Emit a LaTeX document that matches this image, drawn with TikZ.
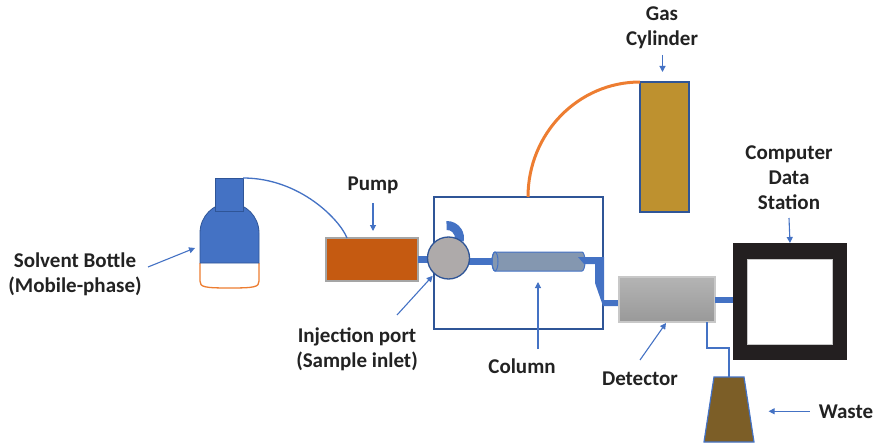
\documentclass[tikz,border=0pt]{standalone}
\usepackage{fontspec}
\setmainfont{Carlito}
\usetikzlibrary{arrows.meta,calc}

\definecolor{pipeblue}{HTML}{4472C4}
\definecolor{edgeblue}{HTML}{2F5597}
\definecolor{pumpfill}{HTML}{C55A11}
\definecolor{pumpedge}{HTML}{A5A5A5}
\definecolor{valvefill}{HTML}{AEAAAA}
\definecolor{colfill}{HTML}{8497B0}
\definecolor{gasfill}{HTML}{BE912F}
\definecolor{hoseorange}{HTML}{ED7D31}
\definecolor{pcdark}{HTML}{231F20}
\definecolor{wastefill}{HTML}{7C5E27}
\definecolor{labeltext}{HTML}{222222}
\definecolor{detlight}{HTML}{B4B4B4}
\definecolor{detdark}{HTML}{999999}
\definecolor{detedge}{HTML}{C8C8C8}

\tikzset{
  lbl/.style={font=\fontsize{21}{25}\selectfont\bfseries, text=labeltext, align=center, inner sep=0},
  ptr/.style={draw=pipeblue, line width=1.1pt, -{Triangle[width=6pt,length=6pt]}},
  thinblue/.style={draw=pipeblue, line width=1.3pt},
  pipe/.style={draw=pipeblue, line width=7pt},
  box/.style={inner sep=0, outer sep=0, rectangle},
}

\begin{document}
\begin{tikzpicture}[x=1pt,y=-1pt]
\useasboundingbox (0,0) rectangle (876,444);

% ---- solvent bottle ----
\coordinate (bottleL) at (200,248);
\fill[white] (200,263) -- (200,281) .. controls (200,287) and (204,288) .. (229.5,288)
   .. controls (255,288) and (259,287) .. (259,281) -- (259,263) -- cycle;
\draw[hoseorange, line width=1.3pt] (200,263) -- (200,281) .. controls (200,287) and (204,288) .. (229.5,288)
   .. controls (255,288) and (259,287) .. (259,281) -- (259,263);
\filldraw[fill=pipeblue, draw=edgeblue, line width=0.8pt] (200,263) -- (200,233)
   arc[start angle=180, end angle=360, x radius=29.5, y radius=30] -- (259,263) -- cycle;
\node[box, fill=pipeblue, draw=edgeblue, line width=0.8pt, minimum width=28pt, minimum height=33pt]
   (neck) at (229,194.5) {};

% ---- pump ----
\node[box, fill=pumpfill, draw=pumpedge, line width=1.5pt, minimum width=92pt, minimum height=43pt]
   (pump) at (372,259.5) {};
\draw[thinblue] (neck.north east) .. controls (300,178) and (340,220) .. ($(pump.north west)+(21,0)$);

% ---- column oven, valve and column ----
\node[box, draw=edgeblue, line width=1.3pt, minimum width=169pt, minimum height=132pt]
   (oven) at (518.5,263) {};
\node[box, minimum width=92pt, minimum height=19pt] (column) at (539,261.5) {};
\node[circle, inner sep=0, outer sep=0, minimum size=42pt] (valve) at (448.5,258) {};

\draw[pipe] (pump.east) -- ($(pump.east)+(14,0)$);
\draw[pipe, line width=6.5pt] (valve.center |- column.west) -- (column.west);

% column body
\filldraw[fill=colfill, draw=pipeblue, line width=1pt] (495,252) -- (582,252)
   arc[start angle=-90, end angle=90, x radius=3, y radius=9.5] -- (495,271)
   arc[start angle=90, end angle=270, x radius=3, y radius=9.5] -- cycle;
\draw[pipeblue, line width=1pt] (495,261.5) ellipse[x radius=3, y radius=9.5];

% elbow pipe from column to detector
\fill[pipeblue] (578,257) -- (604,257) -- (604,300) -- (620,300) -- (620,306) -- (603,306)
   -- (595,283) -- (595,264) -- (584,264) -- cycle;

% sample loop handle (a ring segment), then the injection valve over it
\coordinate (handle) at (447,238);
\fill[pipeblue] ($(handle)+(268:17)$) arc[start angle=268, end angle=372, radius=17]
   -- ($(handle)+(372:8)$) arc[start angle=372, end angle=268, radius=8] -- cycle;
\node[circle, fill=valvefill, draw=edgeblue, line width=1.3pt, inner sep=0, minimum size=42pt] at (valve.center) {};

% ---- gas cylinder ----
\node[box, fill=gasfill, draw=edgeblue, line width=1.3pt, minimum width=49pt, minimum height=130pt]
   (gas) at (664.5,147) {};
\draw[hoseorange, line width=3pt] ($(oven.north west)+(94,0)$)
   arc[start angle=180, end angle=270, x radius=112, y radius=115];

% ---- detector ----
\node[box, top color=detlight, bottom color=detdark, draw=detedge, line width=1.5pt,
   minimum width=96pt, minimum height=45pt] (detector) at (667,299.5) {};

% ---- computer ----
\node[box, fill=pcdark, minimum width=114pt, minimum height=117pt] (computer) at (790,301.5) {};
\node[box, fill=white, draw=detedge, line width=0.6pt, minimum width=85pt, minimum height=85pt]
   (screen) at (789.5,301.5) {};
\draw[pipe, line width=6pt] (detector.east) -- (computer.west |- detector.east);

% ---- waste ----
\coordinate (waste) at (729,377);
\filldraw[fill=wastefill, draw=pipeblue, line width=1.2pt] (714,377) -- (744,377) -- (754,442) -- (704,442) -- cycle;
\draw[thinblue] ($(detector.south east)+(-8,0)$) |- ($(waste)+(0,-29)$) -- (waste);

% ---- labels ----
\node[lbl] (solventlbl) at (75,274) {Solvent Bottle\\(Mobile-phase)};
\node[lbl, anchor=base] (pumplbl) at (373,190) {Pump};
\node[lbl] (injlbl) at (357,349) {Injection port\\(Sample inlet)};
\node[lbl, anchor=base] (collbl) at (522,373) {Column};
\node[lbl, anchor=base] (detlbl) at (640,385) {Detector};
\node[lbl, anchor=base] (wastelbl) at (846,418) {Waste};
\node[lbl] (gaslbl) at (662,28) {Gas\\Cylinder};
\node[lbl] (pclbl) at (789,178) {Computer\\Data\\Station};

% ---- pointers ----
\draw[ptr] (148,267) -- ($(bottleL)+(-5,0)$);
\draw[ptr] ($(pump.north)+(1,-35)$) -- ($(pump.north)+(1,-7)$);
\draw[ptr] (397,315) -- ($(valve.south west)+(-1,3)$);
\draw[ptr] ($(column.south)+(-1,78)$) -- ($(column.south)+(-1,11)$);
\draw[ptr] (640,360) -- ($(detector.south)+(-1,1)$);
\draw[ptr] ($(wastelbl.west)+(-9,0)$) -- ($(wastelbl.west)+(-50,0)$);
\draw[ptr] ($(gas.north)+(-2,-27)$) -- ($(gas.north)+(-2,-10)$);
\draw[ptr] ($(computer.north)+(-1,-25)$) -- (computer.north);
\end{tikzpicture}
\end{document}
